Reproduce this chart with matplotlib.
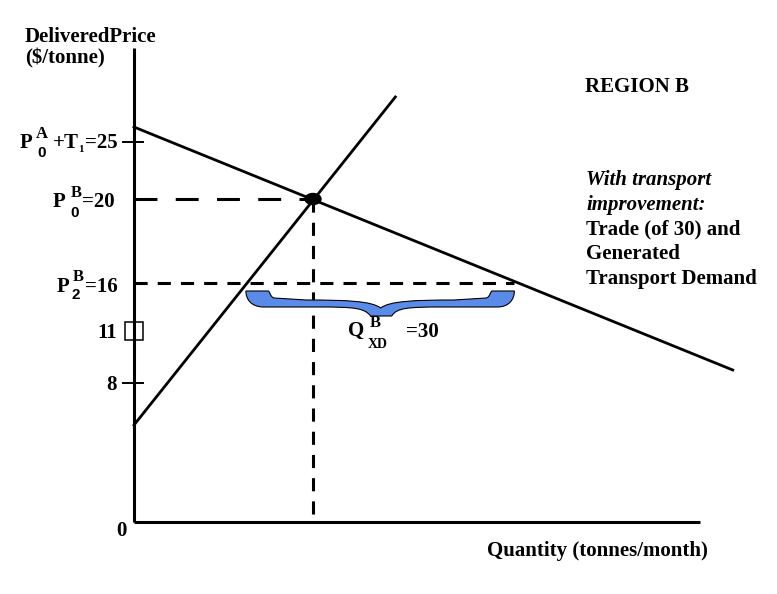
import matplotlib.pyplot as plt
import numpy as np
from matplotlib.path import Path
from matplotlib.patches import PathPatch, Ellipse

plt.rcParams['font.family'] = ['Liberation Serif', 'DejaVu Serif']

W, H, DPI = 777, 594, 100
# the diagram is schematic, not to scale: 1 quantity unit = 8.95 px, 1 height unit = 10 px
PX_Q, PX_H = 8.95, 10.0
ORIGIN = (134, 522)

# price levels marked on the vertical axis and where they sit on the schematic axis
price_labels  = ['25', '20', '16', '11', '8']
price_heights = [38.0, 32.3, 23.9, 19.1, 13.9]

# demand and supply curves of region B
demand_q = [0, 66.9]
demand_h = [39.5, 15.2]
supply_q = [0, 29.2]
supply_h = [9.7, 42.5]

q_eq        = 20      # equilibrium quantity at P0B = 20
q_supply_16 = 12.5    # supplied at P2B = 16
q_demand_16 = 42.5    # demanded at P2B = 16  -> Q_XD = 30
q_xd        = '30'

q_axis_end = 63.2
h_axis_end = 47.4

h25, h20, h16, h11, h8 = price_heights


fig = plt.figure(figsize=(W / DPI, H / DPI), dpi=DPI)
ax = fig.add_axes([0, 0, 1, 1])
ax.set_xlim(-ORIGIN[0] / PX_Q, (W - ORIGIN[0]) / PX_Q)
ax.set_ylim(-(H - ORIGIN[1]) / PX_H, ORIGIN[1] / PX_H)
ax.axis('off')

lw = 2.2
# axes
ax.plot([0, q_axis_end], [0, 0], color='black', lw=lw, solid_capstyle='butt')
ax.plot([0, 0], [0, h_axis_end], color='black', lw=lw, solid_capstyle='butt')

# curves
ax.plot(demand_q, demand_h, color='black', lw=2.0)
ax.plot(supply_q, supply_h, color='black', lw=2.0)

# dashed guides
ax.plot([0, q_eq], [h20, h20], color='black', lw=lw, ls=(0, (7.5, 6)), dash_capstyle='butt')
ax.plot([0, q_demand_16], [h16, h16], color='black', lw=lw, ls=(0, (4.3, 3.3)), dash_capstyle='butt')
ax.plot([q_eq, q_eq], [h20, 0], color='black', lw=lw, ls=(0, (4.3, 3.3)), dash_capstyle='butt')

# ticks at 25 and 8, open box at 11
for h in [h25, h8]:
    ax.plot([-1.2, 1.0], [h, h], color='black', lw=1.4)
ax.plot([0], [h11], marker='s', ms=13.5, mfc='none', mec='black', mew=1.1)

# equilibrium dot
ax.add_patch(Ellipse((q_eq, h20), 16 / PX_Q, 11 / PX_H, color='black', zorder=5))

# curly brace under the P2B line, drawn in pixel offsets then scaled to data
bw = 267.0
pts = [
    ((0, 0), Path.MOVETO),
    ((22, 0), Path.LINETO),
    ((24, 0), Path.CURVE4), ((24, 6), Path.CURVE4), ((28, 7), Path.CURVE4),
    ((60, 9), Path.LINETO),
    ((100, 9), Path.CURVE4), ((125, 10), Path.CURVE4), ((134, 17), Path.CURVE4),
    ((143, 10), Path.CURVE4), ((168, 9), Path.CURVE4), ((207, 9), Path.CURVE4),
    ((239, 7), Path.LINETO),
    ((243, 6), Path.CURVE4), ((243, 0), Path.CURVE4), ((245, 0), Path.CURVE4),
    ((267, 0), Path.LINETO),
    ((267, 8), Path.CURVE4), ((262, 16), Path.CURVE4), ((250, 16), Path.CURVE4),
    ((195, 16), Path.LINETO),
    ((160, 16), Path.CURVE4), ((150, 17), Path.CURVE4), ((145, 25), Path.CURVE4),
    ((124, 25), Path.LINETO),
    ((118, 17), Path.CURVE4), ((108, 16), Path.CURVE4), ((73, 16), Path.CURVE4),
    ((18, 16), Path.LINETO),
    ((5, 16), Path.CURVE4), ((0, 8), Path.CURVE4), ((0, 0), Path.CURVE4),
    ((0, 0), Path.CLOSEPOLY),
]
h_brace = h16 - 0.8
sx = (q_demand_16 - q_supply_16) / bw
verts = [(q_supply_16 + dx * sx, h_brace - dy / PX_H) for (dx, dy), c in pts]
codes = [c for p, c in pts]
ax.add_patch(PathPatch(Path(verts, codes), facecolor='#5b8be8', edgecolor='black', lw=0.8, zorder=4))


def lab(s, q, h, dx, dy, size=15, **kw):
    # dx, dy in pixels from the anchor (dy positive downward), text on its baseline
    ax.annotate(s, (q, h), xytext=(dx, -dy), textcoords='offset pixels',
                ha='left', va='baseline', fontsize=size, fontweight='bold', **kw)


sans = 'Liberation Sans'
# P0A + T1 = 25
lab('P', 0, h25, -114, 6)
lab('A', 0, h25, -98, -4, size=12)
lab('0', 0, h25, -97, 15, size=11, family=sans)
lab('+T', 0, h25, -81, 6)
lab('1', 0, h25, -56, 10, size=8)
lab('=' + price_labels[0], 0, h25, -49, 6)
# P0B = 20
lab('P', 0, h20, -81, 8)
lab('B', 0, h20, -63, -2, size=12)
lab('0', 0, h20, -64, 18, size=11, family=sans)
lab('=' + price_labels[1], 0, h20, -52, 8)
# P2B = 16
lab('P', 0, h16, -77, 9)
lab('B', 0, h16, -61, -2, size=12)
lab('2', 0, h16, -62, 16, size=11, family=sans)
lab('=' + price_labels[2], 0, h16, -49, 9)
# 11 and 8
lab(price_labels[3], 0, h11, -37, 7)
lab(price_labels[4], 0, h8, -28, 7)
lab('0', 0, 0, -18, 14)

# Q_XD^B = 30 under the brace
q_mid = (q_supply_16 + q_demand_16) / 2
lab('Q', q_mid, h_brace, -32, 45)
lab('B', q_mid, h_brace, -10, 36, size=12)
lab('XD', q_mid, h_brace, -12, 57, size=10)
lab('=' + q_xd, q_mid, h_brace, 26, 46)


def ftext(x, y, s, **kw):
    fig.text(x / W, 1 - y / H, s, ha='left', va='baseline', fontsize=15, fontweight='bold', **kw)


ftext(25, 42, 'DeliveredPrice')
ftext(25, 63, '($/tonne)')
ftext(585, 92, 'REGION B')
ftext(487, 556, 'Quantity (tonnes/month)')

side_lines = [('With transport', 'italic'), ('improvement:', 'italic'),
              ('Trade (of 30) and', 'normal'), ('Generated', 'normal'),
              ('Transport Demand', 'normal')]
for i, (s, st) in enumerate(side_lines):
    ftext(586, 185 + i * 24.7, s, fontstyle=st)

fig.savefig('out.png', dpi=DPI)
